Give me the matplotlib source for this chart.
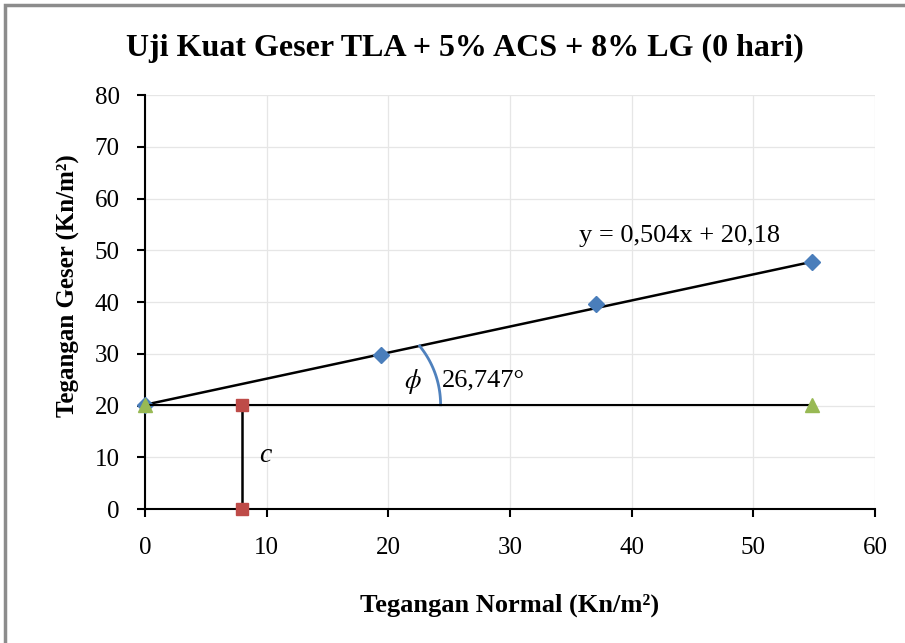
import numpy as np
import matplotlib
matplotlib.use("Agg")
import matplotlib.pyplot as plt
from matplotlib.patches import Rectangle

plt.rcParams['font.family'] = ['Liberation Serif', 'DejaVu Serif']
plt.rcParams['mathtext.fontset'] = 'stix'

# shear test data
normal_stress = [0.0, 19.4, 37.1, 54.8]
shear_stress = [20.18, 29.8, 39.7, 47.7]
slope = 0.504
intercept = 20.18
phi_deg = 26.747
c_x = 8.0

x_ticks = [0, 10, 20, 30, 40, 50, 60]
y_ticks = [0, 10, 20, 30, 40, 50, 60, 70, 80]

fig = plt.figure(figsize=(9.05, 6.43), dpi=100)
ax = fig.add_axes([0.160, 0.208, 0.807, 0.644])

# grey frame round the chart
fig.patches.append(Rectangle((5 / 905, -0.1), 1.2, 1 - 5 / 643 + 0.1, transform=fig.transFigure,
                             fill=False, edgecolor='#8c8c8c', linewidth=2.5))

ax.set_xlim(0, 60)
ax.set_ylim(0, 80)
ax.set_xticks(x_ticks)
ax.set_yticks(y_ticks)
ax.grid(True, color='#e6e6e6', linewidth=0.9)
ax.set_axisbelow(True)
for s in ['top', 'right']:
    ax.spines[s].set_visible(False)
for s in ['left', 'bottom']:
    ax.spines[s].set_linewidth(1.5)
    ax.spines[s].set_color('black')
ax.tick_params(axis='both', direction='out', length=6, width=1.5, labelsize=18)
ax.tick_params(axis='x', pad=14)
ax.tick_params(axis='y', pad=12)

# trend line through the test points
xs = np.array([normal_stress[0], normal_stress[-1]])
ax.plot(xs, slope * xs + intercept, color='black', linewidth=1.8, zorder=3)
ax.plot(normal_stress, shear_stress, linestyle='none', marker='D', markersize=8,
        color='#4a7ebb', zorder=4, clip_on=False)

# horizontal line at cohesion level
ax.plot([0, normal_stress[-1]], [intercept, intercept], color='black', linewidth=1.5,
        marker='^', markersize=10, markerfacecolor='#98b954', markeredgecolor='#98b954',
        zorder=5, clip_on=False)

# cohesion marker
ax.plot([c_x, c_x], [0, intercept], color='black', linewidth=1.8,
        marker='s', markersize=9, markerfacecolor='#be4b48', markeredgecolor='#be4b48',
        zorder=5, clip_on=False)

# angle arc: a circle in screen space, from the horizontal line up to the trend line
fig.canvas.draw()
arc_foot_x = 24.3
arc_r = 93.0
p0 = ax.transData.transform((0, intercept))
p1 = ax.transData.transform((1, intercept + slope))
d = (p1 - p0) / np.hypot(*(p1 - p0))
foot = ax.transData.transform((arc_foot_x, intercept))
centre = foot - np.array([arc_r, 0])
# intersection of the trend line with the circle
w = p0 - centre
b = np.dot(w, d)
s_hit = -b + np.sqrt(b * b - (np.dot(w, w) - arc_r ** 2))
hit = p0 + s_hit * d
t_end = np.arctan2(hit[1] - centre[1], hit[0] - centre[0])
t = np.linspace(0, t_end, 60)
pts = np.column_stack([centre[0] + arc_r * np.cos(t), centre[1] + arc_r * np.sin(t)])
arc = ax.transData.inverted().transform(pts)
ax.plot(arc[:, 0], arc[:, 1], color='#4f81bd', linewidth=2, zorder=4)

ax.text(22.0, 24.7, r'$\phi$', fontsize=19, ha='center', va='center')
ax.text(24.4, 24.8, f'{phi_deg:.3f}°'.replace('.', ','), fontsize=19, ha='left', va='center')
ax.text(9.9, 10.3, 'c', fontsize=20, style='italic', ha='center', va='center')
ax.text(43.9, 52.7, f'y = {slope:.3f}x + {intercept:.2f}'.replace('.', ','), fontsize=19,
        ha='center', va='center')

fig.text(0.514, 0.925, 'Uji Kuat Geser TLA + 5% ACS + 8% LG (0 hari)', fontsize=23,
         fontweight='bold', ha='center', va='center')
ax.set_xlabel('Tegangan Normal (Kn/m²)', fontsize=19, fontweight='bold', labelpad=25)
ax.set_ylabel('Tegangan Geser (Kn/m²)', fontsize=18, fontweight='bold')
ax.yaxis.set_label_coords(-0.089, 0.541)

fig.savefig('out.png', dpi=100)
